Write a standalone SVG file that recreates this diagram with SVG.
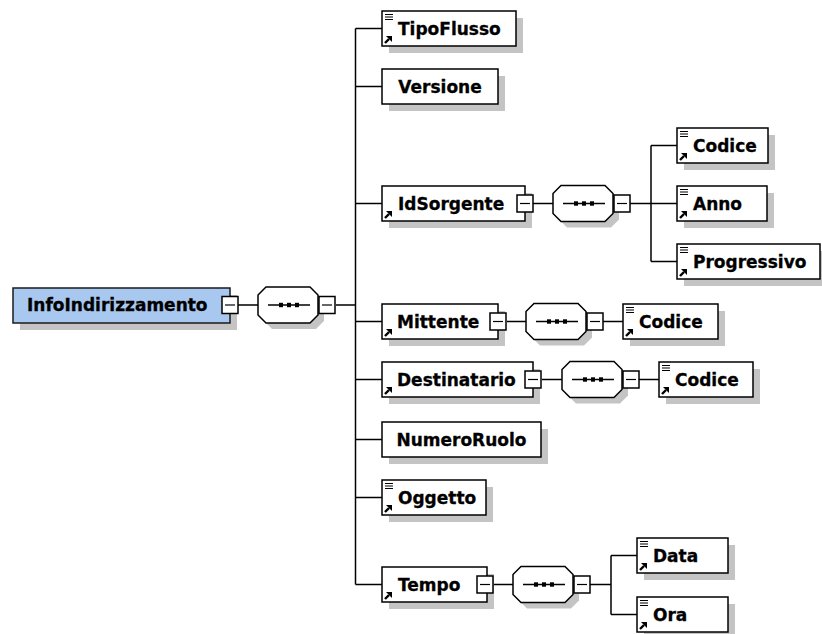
<svg xmlns="http://www.w3.org/2000/svg" xmlns:xlink="http://www.w3.org/1999/xlink" width="822" height="634" viewBox="0 0 822 634">
<style>
.box{fill:#ffffff;stroke:#000000;stroke-width:1.5}
.root{fill:#a8c8f0;stroke:#1a1a1a;stroke-width:1.5}
.sh{fill:#c4c4c4;stroke:none}
.conn{fill:none;stroke:#000000;stroke-width:1.5}
.lbl{font-family:"DejaVu Sans","Liberation Sans",sans-serif;font-weight:bold;font-size:17px;fill:#000000;stroke:#000000;stroke-width:0.3}
</style>
<defs>
<g id="icoList"><path d="M0,0.5H8M0,3H8M0,5.5H8" stroke="#000" stroke-width="1.1" fill="none"/></g>
<g id="icoRef"><path d="M1,7L5,3" stroke="#000" stroke-width="2.4" fill="none"/><path d="M2,0H8V6Z" fill="#000"/></g>
<g id="minus"><rect x="0" y="0" width="16" height="17" fill="#fff" stroke="#000" stroke-width="1.5"/><path d="M3,8.5H13" stroke="#000" stroke-width="1.2"/></g>
<g id="seq">
<path d="M14,6H58L66,14V34L58,42H14L6,34V14Z" class="sh"/>
<path d="M8,0H52L60,8V28L52,36H8L0,28V8Z" fill="#fff" stroke="#000" stroke-width="1.5"/>
<path d="M10,18H52" stroke="#000" stroke-width="1.5"/>
<rect x="21" y="15.8" width="4" height="4.4" fill="#000"/>
<rect x="29" y="15.8" width="4" height="4.4" fill="#000"/>
<rect x="37" y="15.8" width="4" height="4.4" fill="#000"/>
</g>
</defs>
<rect width="822" height="634" fill="#ffffff"/>

<g id="connectors">
<path class="conn" d="M237,305H258M336,305H355.5"/>
<path class="conn" d="M355.5,28.5V584.5"/>
<path class="conn" d="M355.5,28.5H382M355.5,86.5H382M355.5,203.5H382M355.5,321.5H382M355.5,379.5H382M355.5,439.5H382M355.5,497.5H382M355.5,584.5H382"/>
<path class="conn" d="M533,203.5H553M630,203.5H651M651,145.5V261.5M651,145.5H677M651,203.5H677M651,261.5H677"/>
<path class="conn" d="M507,321.5H526M603,321.5H623"/>
<path class="conn" d="M542,379.5H562M639,379.5H659"/>
<path class="conn" d="M494,584.5H513M590,584.5H611M611,555.5V614.5M611,555.5H637M611,614.5H637"/>
</g>

<g id="InfoIndirizzamento">
<rect class="sh" x="20" y="295" width="217" height="35"/>
<rect class="root" x="13" y="288" width="217" height="35"/>
<text class="lbl" x="27" y="311">InfoIndirizzamento</text>
<use xlink:href="#minus" x="222" y="296.5"/>
</g>
<g id="seq-root"><use xlink:href="#seq" x="258" y="287"/><use xlink:href="#minus" x="319" y="296.5"/></g>

<g id="TipoFlusso">
<rect class="sh" x="389" y="18" width="134" height="35"/>
<rect class="box" x="382" y="11" width="134" height="35"/>
<use xlink:href="#icoList" x="385" y="14"/><use xlink:href="#icoRef" x="384" y="36"/>
<text class="lbl" x="398" y="34.5">TipoFlusso</text>
</g>

<g id="Versione">
<rect class="sh" x="389" y="76" width="116" height="35"/>
<rect class="box" x="382" y="69" width="116" height="35"/>
<text class="lbl" x="440" y="92.5" text-anchor="middle">Versione</text>
</g>

<g id="IdSorgente">
<rect class="sh" x="389" y="193" width="143" height="35"/>
<rect class="box" x="382" y="186" width="143" height="35"/>
<use xlink:href="#icoRef" x="384" y="211"/>
<text class="lbl" x="398" y="209.5">IdSorgente</text>
<use xlink:href="#minus" x="517" y="195"/>
</g>
<g id="seq-IdSorgente"><use xlink:href="#seq" x="553" y="185.5"/><use xlink:href="#minus" x="614" y="195"/></g>

<g id="IdSorgente-Codice">
<rect class="sh" x="684" y="135" width="91" height="35"/>
<rect class="box" x="677" y="128" width="91" height="35"/>
<use xlink:href="#icoList" x="680" y="131"/><use xlink:href="#icoRef" x="679" y="153"/>
<text class="lbl" x="693" y="151.5">Codice</text>
</g>

<g id="Anno">
<rect class="sh" x="684" y="193" width="90" height="35"/>
<rect class="box" x="677" y="186" width="90" height="35"/>
<use xlink:href="#icoList" x="680" y="189"/><use xlink:href="#icoRef" x="679" y="211"/>
<text class="lbl" x="693" y="209.5">Anno</text>
</g>

<g id="Progressivo">
<rect class="sh" x="684" y="251" width="143" height="35"/>
<rect class="box" x="677" y="244" width="143" height="35"/>
<use xlink:href="#icoList" x="680" y="247"/><use xlink:href="#icoRef" x="679" y="269"/>
<text class="lbl" x="693" y="267.5">Progressivo</text>
</g>

<g id="Mittente">
<rect class="sh" x="389" y="311" width="116" height="35"/>
<rect class="box" x="382" y="304" width="116" height="35"/>
<use xlink:href="#icoRef" x="384" y="329"/>
<text class="lbl" x="397" y="327.5">Mittente</text>
<use xlink:href="#minus" x="490" y="313"/>
</g>
<g id="seq-Mittente"><use xlink:href="#seq" x="526" y="303.5"/><use xlink:href="#minus" x="587" y="313"/></g>

<g id="Mittente-Codice">
<rect class="sh" x="630" y="311" width="95" height="35"/>
<rect class="box" x="623" y="304" width="95" height="35"/>
<use xlink:href="#icoList" x="626" y="307"/><use xlink:href="#icoRef" x="625" y="329"/>
<text class="lbl" x="639" y="327.5">Codice</text>
</g>

<g id="Destinatario">
<rect class="sh" x="389" y="369" width="151" height="35"/>
<rect class="box" x="382" y="362" width="151" height="35"/>
<use xlink:href="#icoRef" x="384" y="387"/>
<text class="lbl" x="397" y="385.5">Destinatario</text>
<use xlink:href="#minus" x="525" y="371"/>
</g>
<g id="seq-Destinatario"><use xlink:href="#seq" x="562" y="361.5"/><use xlink:href="#minus" x="623" y="371"/></g>

<g id="Destinatario-Codice">
<rect class="sh" x="666" y="369" width="94" height="35"/>
<rect class="box" x="659" y="362" width="94" height="35"/>
<use xlink:href="#icoList" x="662" y="365"/><use xlink:href="#icoRef" x="661" y="387"/>
<text class="lbl" x="675" y="385.5">Codice</text>
</g>

<g id="NumeroRuolo">
<rect class="sh" x="389" y="429" width="159" height="35"/>
<rect class="box" x="382" y="422" width="159" height="35"/>
<text class="lbl" x="461.5" y="445.5" text-anchor="middle">NumeroRuolo</text>
</g>

<g id="Oggetto">
<rect class="sh" x="389" y="487" width="104" height="35"/>
<rect class="box" x="382" y="480" width="104" height="35"/>
<use xlink:href="#icoList" x="385" y="483"/><use xlink:href="#icoRef" x="384" y="505"/>
<text class="lbl" x="398" y="503.5">Oggetto</text>
</g>

<g id="Tempo">
<rect class="sh" x="389" y="574" width="105" height="35"/>
<rect class="box" x="382" y="567" width="105" height="35"/>
<use xlink:href="#icoRef" x="384" y="592"/>
<text class="lbl" x="398" y="590.5">Tempo</text>
<use xlink:href="#minus" x="477" y="576"/>
</g>
<g id="seq-Tempo"><use xlink:href="#seq" x="513" y="566.5"/><use xlink:href="#minus" x="574" y="576"/></g>

<g id="Data">
<rect class="sh" x="644" y="545" width="91" height="35"/>
<rect class="box" x="637" y="538" width="91" height="35"/>
<use xlink:href="#icoList" x="640" y="541"/><use xlink:href="#icoRef" x="639" y="563"/>
<text class="lbl" x="653" y="561.5">Data</text>
</g>

<g id="Ora">
<rect class="sh" x="644" y="604" width="91" height="35"/>
<rect class="box" x="637" y="597" width="91" height="35"/>
<use xlink:href="#icoList" x="640" y="600"/><use xlink:href="#icoRef" x="639" y="622"/>
<text class="lbl" x="653" y="620.5">Ora</text>
</g>
</svg>
